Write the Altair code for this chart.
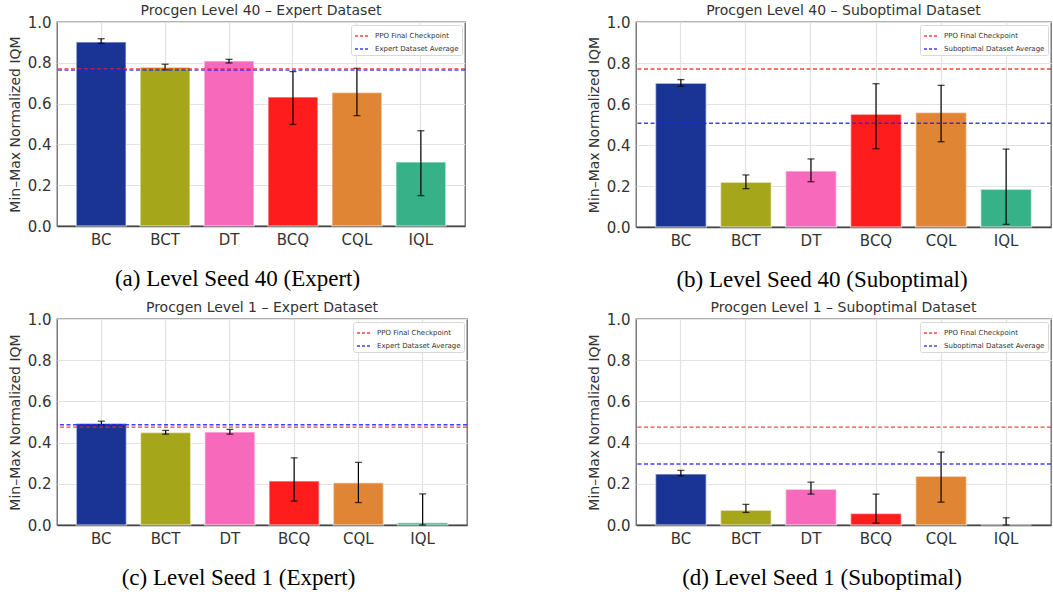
import altair as alt
import pandas as pd

# Methods and their bar colours (shared by all four panels)
methods = ["BC", "BCT", "DT", "BCQ", "CQL", "IQL"]
bar_colors = ["#1a3496", "#a6a61b", "#f669bb", "#fe1c1c", "#e08534", "#37b188"]

panel_titles = [
    "Procgen Level 40 – Expert Dataset",
    "Procgen Level 40 – Suboptimal Dataset",
    "Procgen Level 1 – Expert Dataset",
    "Procgen Level 1 – Suboptimal Dataset",
]
captions = [
    "(a) Level Seed 40 (Expert)",
    "(b) Level Seed 40 (Suboptimal)",
    "(c) Level Seed 1 (Expert)",
    "(d) Level Seed 1 (Suboptimal)",
]
avg_labels = [
    "Expert Dataset Average",
    "Suboptimal Dataset Average",
    "Expert Dataset Average",
    "Suboptimal Dataset Average",
]
ppo_label = "PPO Final Checkpoint"

# IQM per method with lower / upper confidence bounds
iqm_a = [0.902, 0.778, 0.809, 0.632, 0.655, 0.314]
lo_a = [0.895, 0.766, 0.799, 0.498, 0.541, 0.149]
hi_a = [0.918, 0.793, 0.817, 0.757, 0.773, 0.467]

iqm_b = [0.701, 0.218, 0.273, 0.550, 0.559, 0.184]
lo_b = [0.686, 0.187, 0.221, 0.382, 0.416, 0.013]
hi_b = [0.719, 0.254, 0.332, 0.699, 0.691, 0.380]

iqm_c = [0.493, 0.449, 0.451, 0.213, 0.205, 0.011]
lo_c = [0.487, 0.441, 0.441, 0.116, 0.109, 0.000]
hi_c = [0.504, 0.459, 0.464, 0.326, 0.304, 0.151]

iqm_d = [0.247, 0.072, 0.174, 0.056, 0.237, 0.000]
lo_d = [0.239, 0.061, 0.150, 0.009, 0.111, 0.000]
hi_d = [0.265, 0.100, 0.208, 0.150, 0.354, 0.035]

# Reference levels: PPO final checkpoint and dataset average
ppo_levels = [0.770, 0.771, 0.475, 0.475]
dataset_avgs = [0.764, 0.506, 0.487, 0.296]

LINE_RED = "#ff2020"
LINE_BLUE = "#1f1fff"
TEXT = "#333333"
SANS = "DejaVu Sans"


def panel(title, caption, iqm, lo, hi, ppo, avg, avg_label, width, height, cap_shift):
    bars_df = pd.DataFrame(
        {"method": methods, "iqm": iqm, "lo": lo, "hi": hi, "color": bar_colors}
    )
    lines_df = pd.DataFrame({"series": [ppo_label, avg_label], "value": [ppo, avg]})

    x_axis = alt.Axis(
        title=caption,
        titleFont="Liberation Serif",
        titleFontSize=23,
        titleFontWeight="normal",
        titleColor="black",
        titleX=width / 2 - cap_shift,
        titleY=52,
        titleAlign="center",
        titleBaseline="middle",
        labelAngle=0,
        labelPadding=6,
        bandPosition=0.5,
    )
    x_scale = alt.Scale(paddingInner=0.22, paddingOuter=0.3)
    y_axis = alt.Axis(
        title="Min–Max Normalized IQM",
        values=[0, 0.2, 0.4, 0.6, 0.8, 1.0],
        format=".1f",
        labelPadding=6,
        titlePadding=5,
    )
    y_scale = alt.Scale(domain=[0, 1], nice=False)

    def xe():
        return alt.X("method:N", sort=methods, scale=x_scale, axis=x_axis)

    def ye(field):
        return alt.Y(field, type="quantitative", scale=y_scale, axis=y_axis)

    base = alt.Chart(bars_df)
    bars = base.mark_bar(stroke="white", strokeOpacity=0.5, strokeWidth=1.5).encode(
        x=xe(), y=ye("iqm"), fill=alt.Fill("color:N", scale=None, legend=None)
    )
    whisker = base.mark_rule(color="black", strokeWidth=1.2).encode(
        x=xe(), y=ye("lo"), y2="hi"
    )
    cap_low = base.mark_tick(color="black", size=7, thickness=1.3).encode(
        x=xe(), y=ye("lo")
    )
    cap_high = base.mark_tick(color="black", size=7, thickness=1.3).encode(
        x=xe(), y=ye("hi")
    )
    levels = alt.Chart(lines_df).mark_rule(
        strokeDash=[4, 2.5], strokeWidth=1.4, opacity=0.85
    ).encode(
        y=ye("value"),
        color=alt.Color(
            "series:N",
            scale=alt.Scale(domain=[ppo_label, avg_label], range=[LINE_RED, LINE_BLUE]),
            legend=alt.Legend(
                title=None,
                orient="top-right",
                offset=3,
                fillColor="white",
                strokeColor="#d8d8d8",
                padding=3,
                rowPadding=2,
                symbolType="stroke",
                symbolSize=196,
                symbolStrokeWidth=1.3,
                symbolDash=[3, 2],
                labelFont=SANS,
                labelFontSize=7,
                labelColor=TEXT,
                labelOffset=5,
                cornerRadius=2,
            ),
        ),
    )
    return alt.layer(bars, whisker, cap_low, cap_high, levels).properties(
        width=width,
        height=height,
        title=alt.TitleParams(
            title, font=SANS, fontSize=14, fontWeight="normal", color=TEXT, offset=-3
        ),
    )


pa = panel(panel_titles[0], captions[0], iqm_a, lo_a, hi_a, ppo_levels[0],
           dataset_avgs[0], avg_labels[0], 408, 204, 24)
pb = panel(panel_titles[1], captions[1], iqm_b, lo_b, hi_b, ppo_levels[1],
           dataset_avgs[1], avg_labels[1], 415, 205, 22)
pc = panel(panel_titles[2], captions[2], iqm_c, lo_c, hi_c, ppo_levels[2],
           dataset_avgs[2], avg_labels[2], 410, 206, 24)
pd_ = panel(panel_titles[3], captions[3], iqm_d, lo_d, hi_d, ppo_levels[3],
            dataset_avgs[3], avg_labels[3], 415, 206, 22)

chart = (
    alt.concat(pa, pb, pc, pd_, columns=2,
               spacing=alt.RowColnumber(row=92, column=169), bounds="flush")
    .resolve_scale(color="independent", fill="independent", x="independent", y="independent")
    .resolve_legend(color="independent")
    .properties(padding={"left": 7, "top": 3, "right": 0, "bottom": 0}, background="white")
    .configure_view(stroke="#666666", strokeWidth=1.3)
    .configure_axis(
        grid=True,
        gridColor="#e2e2e2",
        gridWidth=1.2,
        ticks=False,
        domain=False,
        labelFont=SANS,
        labelFontSize=15,
        labelColor=TEXT,
        titleFont=SANS,
        titleFontSize=14,
        titleFontWeight="normal",
        titleColor=TEXT,
    )
    .configure_axisX(domain=True, domainColor="#444444", domainWidth=1.5)
)

chart.save("out.html", embed_options={"renderer": "svg", "actions": False})
